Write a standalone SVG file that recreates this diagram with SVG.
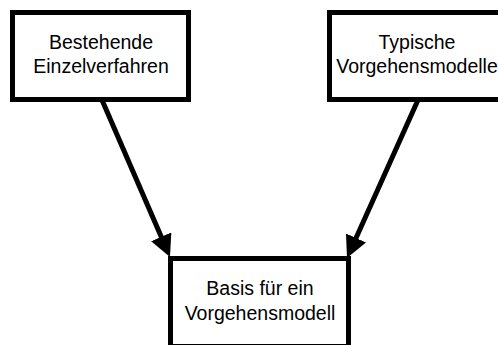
<svg xmlns="http://www.w3.org/2000/svg" width="498" height="345" viewBox="0 0 498 345">
<style>
.box{fill:#fff;stroke:#000;stroke-width:5}
.lbl{font-family:"Liberation Sans",Arial,sans-serif;font-size:19.5px;fill:#000;text-anchor:middle}
.conn{stroke:#000;stroke-width:5;fill:none}
</style>
<defs>
<marker id="ah" viewBox="0 0 22 22" refX="12" refY="11" markerWidth="22" markerHeight="22" markerUnits="userSpaceOnUse" orient="auto">
<path d="M0,0 L22,11 L0,22 Z" fill="#000"/>
</marker>
</defs>
<rect width="498" height="345" fill="#fff"/>
<g id="n1">
<rect class="box" x="12.5" y="12.5" width="176" height="87"/>
<text class="lbl" x="101" y="49">Bestehende</text>
<text class="lbl" x="101" y="72.5">Einzelverfahren</text>
</g>
<g id="n2">
<rect class="box" x="329.5" y="12.5" width="176" height="87"/>
<text class="lbl" x="417" y="49">Typische</text>
<text class="lbl" x="417" y="72.5">Vorgehensmodelle</text>
</g>
<g id="n3">
<rect class="box" x="170.5" y="258.5" width="178" height="88"/>
<text class="lbl" x="260" y="295">Basis für ein</text>
<text class="lbl" x="260" y="319.5">Vorgehensmodell</text>
</g>
<g id="connectors">
<line class="conn" x1="102" y1="100" x2="166" y2="247.8" marker-end="url(#ah)"/>
<line class="conn" x1="418" y1="100" x2="351.1" y2="248.9" marker-end="url(#ah)"/>
</g>
</svg>
